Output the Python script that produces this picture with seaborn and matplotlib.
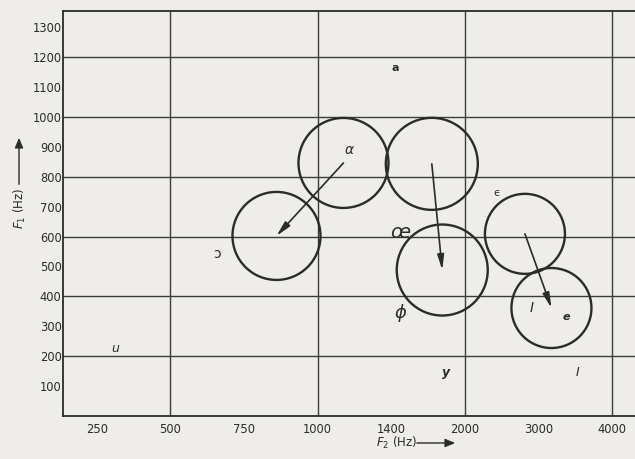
import numpy as np
import pandas as pd
import matplotlib
matplotlib.use("Agg")
import matplotlib.pyplot as plt
import seaborn as sns

# F2 axis: equally spaced (non-linear) tick values
x_tick_hz = [250, 500, 750, 1000, 1400, 2000, 3000, 4000]
x_grid_hz = [500, 1000, 2000, 4000]
y_tick_hz = list(range(100, 1400, 100))
y_grid_hz = [200, 400, 600, 800, 1000, 1200]

# circles (vowel regions), centres in Hz
circle_f2 = [1140, 860, 1730, 1815, 2815, 3175]
circle_f1 = [846, 602, 843, 488, 609, 361]
circle_diam_px = [90, 88, 92, 91, 80, 80]

# arrows: from circle index -> to circle index
arrow_from = [0, 2, 4]
arrow_to = [1, 3, 5]

# vowel symbols
label_text = ["a", "α", "ɔ", "œ", "ϕ", "ϵ", "I", "e", "u", "y", "I"]
label_f2 = [1432, 1171, 659, 1472, 1472, 2437, 2901, 3373, 311, 1848, 3533]
label_f1 = [1164, 890, 542, 615, 344, 746, 361, 331, 224, 144, 147]
label_size = [8, 10, 10, 14, 13, 8, 10, 8, 9, 9, 9]
label_style = ["normal", "italic", "normal", "italic", "italic", "normal",
               "italic", "italic", "italic", "italic", "italic"]
label_weight = ["bold", "normal", "normal", "normal", "normal", "normal",
                "normal", "bold", "normal", "bold", "normal"]

# piecewise mapping Hz <-> evenly spaced position
knot_hz = np.array([0, 250, 500, 750, 1000, 1400, 2000, 3000, 4000, 5000], float)
knot_pos = np.array([-1, 0, 1, 2, 3, 4, 5, 6, 7, 8], float)


def fwd(v):
    return np.interp(v, knot_hz, knot_pos)


def inv(p):
    return np.interp(p, knot_pos, knot_hz)


paper = "#eeede9"
ink = "#2b2b2b"
grid_ink = "#3c3c3c"

sns.set_style("white")
plt.rcParams["font.family"] = ["DejaVu Sans"]

fig = plt.figure(figsize=(6.35, 4.59), dpi=100, facecolor=paper)
ax = fig.add_axes([63 / 635, 1 - 416 / 459, 1 - 63 / 635, (416 - 11) / 459])
ax.set_facecolor(paper)
ax.set_xscale("function", functions=(fwd, inv))
ax.set_xlim(135, 4310)
ax.set_ylim(0, 1354)

# grid lines (only every other value)
for v in x_grid_hz:
    ax.axvline(v, color=grid_ink, lw=1.0, zorder=1)
for v in y_grid_hz:
    ax.axhline(v, color=grid_ink, lw=1.0, zorder=1)

df = pd.DataFrame({"f2": circle_f2, "f1": circle_f1,
                   "s": (np.array(circle_diam_px) * 0.72) ** 2})
sns.scatterplot(data=df, x="f2", y="f1", s=df["s"].values, color="none",
                edgecolor=ink, linewidth=1.7, ax=ax, legend=False, zorder=3)
for coll in ax.collections:
    coll.set_facecolor("none")
    coll.set_edgecolor(ink)

for a, b in zip(arrow_from, arrow_to):
    ax.annotate("", xy=(circle_f2[b], circle_f1[b]),
                xytext=(circle_f2[a], circle_f1[a]),
                arrowprops=dict(arrowstyle="-|>,head_length=0.9,head_width=0.2",
                                color=ink, lw=1.2, shrinkA=0, shrinkB=0),
                zorder=4)

for t, x, y, fs, st, w in zip(label_text, label_f2, label_f1, label_size,
                              label_style, label_weight):
    ax.text(x, y, t, fontsize=fs, style=st, weight=w, color=ink,
            ha="center", va="center", zorder=5)

ax.set_xticks(x_tick_hz)
ax.set_xticklabels([str(v) for v in x_tick_hz])
ax.set_yticks(y_tick_hz)
ax.set_yticklabels([str(v) for v in y_tick_hz])
ax.minorticks_off()
ax.tick_params(which="major", direction="in", length=4, width=1, color=ink,
               labelsize=8.3, labelcolor=ink)
ax.tick_params(axis="x", which="major", pad=5)
ax.tick_params(axis="y", which="major", pad=1)
ax.grid(False)
ax.set_xlabel("")
ax.set_ylabel("")

for side in ["left", "bottom", "top"]:
    ax.spines[side].set_visible(True)
    ax.spines[side].set_color(ink)
    ax.spines[side].set_linewidth(1.3)
ax.spines["right"].set_visible(False)

# axis titles with arrows
fig.text(397 / 635, 1 - 443 / 459, "$F_2$ (Hz)", fontsize=8.5, color=ink,
         ha="center", va="center")
fig.add_artist(matplotlib.patches.FancyArrowPatch(
    (414 / 635, 1 - 443 / 459), (458 / 635, 1 - 443 / 459),
    transform=fig.transFigure, arrowstyle="-|>,head_length=6,head_width=2.5",
    color=ink, lw=1.0))
fig.text(20 / 635, 1 - 208 / 459, "$F_1$ (Hz)", fontsize=8.5, color=ink,
         rotation=90, ha="center", va="center")
fig.add_artist(matplotlib.patches.FancyArrowPatch(
    (19 / 635, 1 - 187 / 459), (19 / 635, 1 - 135 / 459),
    transform=fig.transFigure, arrowstyle="-|>,head_length=6,head_width=2.5",
    color=ink, lw=1.0))

fig.savefig("out.png", dpi=100, facecolor=paper)
